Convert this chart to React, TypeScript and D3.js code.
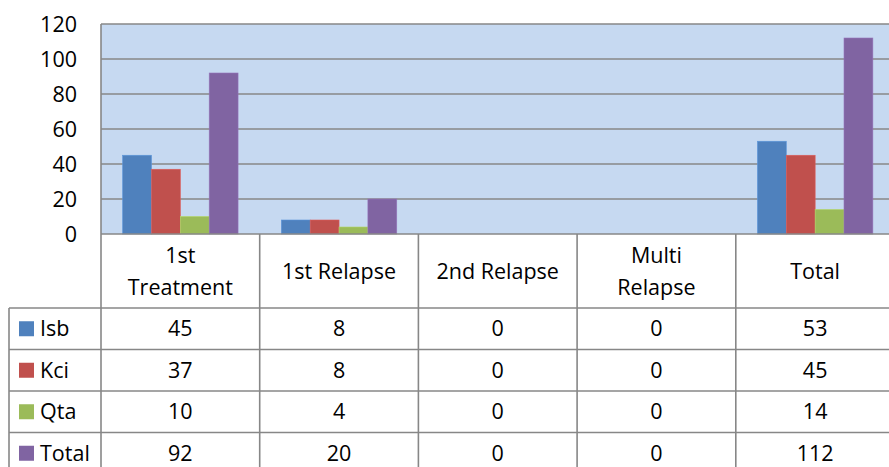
import React from 'react'
import * as d3 from 'd3'

const categories = ['1st Treatment', '1st Relapse', '2nd Relapse', 'Multi Relapse', 'Total']
const headerLines = [['1st', 'Treatment'], ['1st Relapse'], ['2nd Relapse'], ['Multi', 'Relapse'], ['Total']]
const seriesNames = ['Isb', 'Kci', 'Qta', 'Total']
const isb = [45, 8, 0, 0, 53]
const kci = [37, 8, 0, 0, 45]
const qta = [10, 4, 0, 0, 14]
const total = [92, 20, 0, 0, 112]
const yTicks = [0, 20, 40, 60, 80, 100, 120]

const colors = ['#4F81BD', '#C0504D', '#9BBB59', '#8064A2']
const seriesValues = [isb, kci, qta, total]

const W = 889
const H = 467
const left = 101
const top = 24
const zeroY = 234
const step = 158.7
const headerH = 74
const rowH = 41.5
const tableLeft = 9
const font = '"Open Sans", sans-serif'
const fs = 21.5
const grid = '#878787'

export default function App() {
  const x = d3.scaleBand<string>()
    .domain(categories)
    .range([left, left + step * categories.length])
    .paddingInner(0)
    .paddingOuter(0)
  // Excel-style gap width of 150%
  const inner = d3.scaleBand<number>()
    .domain(d3.range(seriesNames.length))
    .range([0, x.bandwidth()])
    .paddingInner(0)
    .paddingOuter(0.75)
  const y = d3.scaleLinear().domain([0, 120]).range([zeroY, top])

  const rowTop = (i: number) => zeroY + headerH + i * rowH
  const colEdges = categories.map(c => x(c) as number).concat([left + step * categories.length])

  return (
    <svg width={W} height={H} style={{ position: 'absolute', left: 0, top: 0, background: '#fff' }}>
      <rect x={left} y={top} width={W - left + 10} height={zeroY - top} fill="#C6D9F1" />
      {yTicks.map(t => (
        <g key={t}>
          {t > 0 && <line x1={left} x2={W + 10} y1={y(t)} y2={y(t)} stroke={grid} strokeWidth={1.4} />}
          <text x={77} y={y(t)} dy="0.36em" textAnchor="end" fontSize={fs} fontFamily={font} fill="#000">{t}</text>
        </g>
      ))}
      {seriesValues.map((vals, si) => (
        <g key={si} fill={colors[si]}>
          {vals.map((v, ci) => (
            v > 0 && <rect key={ci}
              x={(x(categories[ci]) as number) + (inner(si) as number)}
              y={y(v)} width={inner.bandwidth()} height={zeroY - y(v)}
              stroke={d3.color(colors[si])!.brighter(0.4).toString()} strokeWidth={0.6} />
          ))}
        </g>
      ))}
      {/* plot border */}
      <line x1={left} x2={left} y1={top} y2={H} stroke={grid} strokeWidth={1.6} />
      <line x1={left} x2={W + 10} y1={zeroY} y2={zeroY} stroke={grid} strokeWidth={1.6} />

      {/* data table */}
      {colEdges.map((cx, i) => i > 0 && (
        <line key={i} x1={cx} x2={cx} y1={zeroY} y2={H} stroke={grid} strokeWidth={1.6} />
      ))}
      <line x1={tableLeft} x2={tableLeft} y1={rowTop(0)} y2={H} stroke={grid} strokeWidth={1.6} />
      {seriesNames.map((_, i) => (
        <line key={i} x1={tableLeft} x2={W + 10} y1={rowTop(i)} y2={rowTop(i)} stroke={grid} strokeWidth={1.6} />
      ))}
      {categories.map((c, ci) => {
        const cx = (x(c) as number) + x.bandwidth() / 2
        const lines = headerLines[ci]
        const cy = zeroY + headerH / 2
        return (
          <text key={c} x={cx} textAnchor="middle" fontSize={fs} fontFamily={font} fill="#000">
            {lines.map((l, li) => (
              <tspan key={li} x={cx} y={cy + (li - (lines.length - 1) / 2) * 32} dy="0.36em">{l}</tspan>
            ))}
          </text>
        )
      })}
      {seriesNames.map((name, si) => {
        const cy = rowTop(si) + rowH / 2
        return (
          <g key={name}>
            <rect x={19} y={cy - 7.5} width={15} height={15} fill={colors[si]} />
            <text x={40} y={cy} dy="0.36em" fontSize={fs} fontFamily={font} fill="#000">{name}</text>
            {seriesValues[si].map((v, ci) => (
              <text key={ci} x={(x(categories[ci]) as number) + x.bandwidth() / 2} y={cy} dy="0.36em"
                textAnchor="middle" fontSize={fs} fontFamily={font} fill="#000">{v}</text>
            ))}
          </g>
        )
      })}
    </svg>
  )
}
